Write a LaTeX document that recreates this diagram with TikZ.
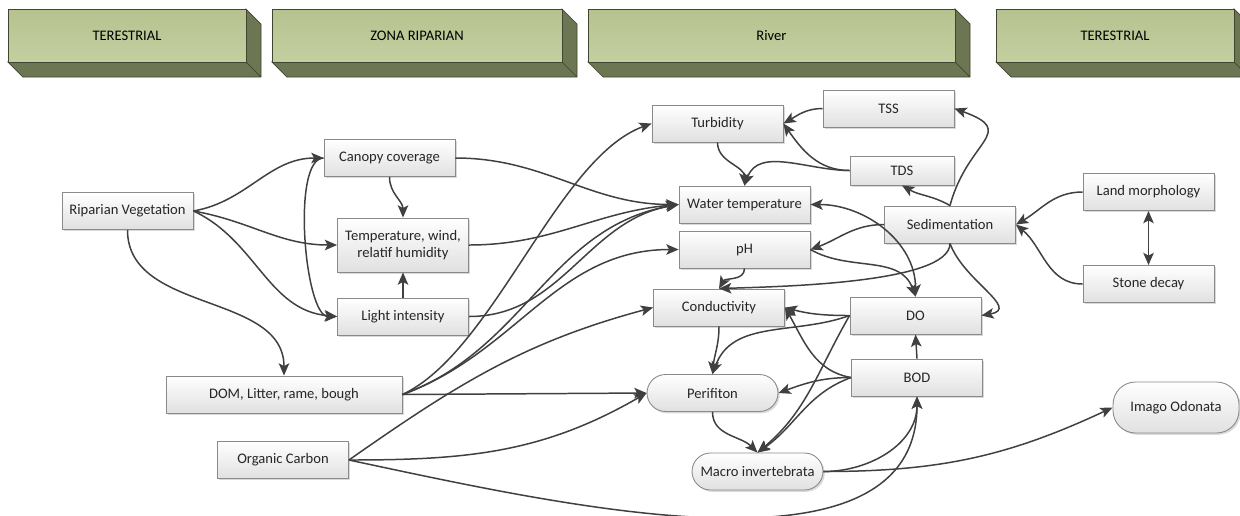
\documentclass[tikz,border=0pt]{standalone}
\usepackage{fontspec}
\setmainfont{Carlito}
\usetikzlibrary{arrows.meta,shadows}
\definecolor{ink}{HTML}{404040}
\definecolor{rim}{HTML}{8A8A8A}
\definecolor{leaf}{HTML}{BDCA95}
\definecolor{leafdark}{HTML}{6C7652}
\definecolor{leafrim}{HTML}{3F4530}

\begin{document}
\begin{tikzpicture}[x=0.02cm,y=-0.02cm,font=\fontsize{8.3}{9.6}\selectfont,
  zone/.style={draw=leafrim,line width=0.4pt,top color=leaf!96!black,bottom color=leaf!90!white,minimum height=1.06cm,inner sep=0pt},
  box/.style={draw=rim,line width=0.5pt,top color=white,bottom color=black!12,text=black!85,
    minimum width=2.62cm,minimum height=0.74cm,inner sep=1pt,align=center,
    drop shadow={shadow xshift=1pt,shadow yshift=-1pt,opacity=0.3}},
  pill/.style={box,rounded corners=0.37cm},
  conn/.style={ink,line width=0.85pt,-{Stealth[length=7pt,width=6pt,inset=1.6pt]}},
  twoway/.style={conn,{Stealth[length=7pt,width=6pt,inset=1.6pt]}-{Stealth[length=7pt,width=6pt,inset=1.6pt]}}]
\useasboundingbox (0,0) rectangle (1240,515);
\foreach \i/\xa/\xb/\name in {1/8/246/TERESTRIAL,2/272/562/ZONA RIPARIAN,3/588/955/River,4/996/1234/TERESTRIAL}{
  \filldraw[fill=leafdark,draw=leafrim,line width=0.4pt] (\xa,62) -- (\xb,62) -- (\xb,9) -- (\xb+15,24) -- (\xb+15,77) -- (\xa+15,77) -- cycle (\xb,62) -- (\xb+15,77);
  \node[zone,minimum width={(\xb-\xa)*0.02cm}] (zone\i) at ({(\xa+\xb)/2},35.5) {\name};}

\node[box] (ripveg) at (127.5,211) {Riparian Vegetation};
\node[box] (canopy) at (389.5,158) {Canopy coverage};
\node[box,minimum height=1.08cm] (climate) at (403,245) {Temperature, wind,\\relatif humidity};
\node[box] (light) at (403,316.5) {Light intensity};
\node[box,minimum width=4.72cm] (dom) at (284,394.5) {DOM, Litter, rame, bough};
\node[box] (carbon) at (283,460) {Organic Carbon};
\node[box] (turbid) at (717.5,123.5) {Turbidity};
\node[box] (tss) at (888.5,108.5) {TSS};
\node[box,minimum width=2.08cm,minimum height=0.58cm] (tds) at (902,170.5) {TDS};
\node[box] (wtemp) at (744.5,204.5) {Water temperature};
\node[box] (ph) at (744.5,249.5) {pH};
\node[box] (cond) at (719,307.5) {Conductivity};
\node[box] (sedim) at (950,224.5) {Sedimentation};
\node[box] (land) at (1148.5,192) {Land morphology};
\node[box] (stone) at (1148.5,284) {Stone decay};
\node[box] (dox) at (915.5,315.5) {DO};
\node[box] (bod) at (917,377.5) {BOD};
\node[pill] (perif) at (712.5,393) {Perifiton};
\node[pill] (macro) at (757.5,471.5) {Macro invertebrata};
\node[pill,minimum width=2.52cm,minimum height=1.02cm,rounded corners=0.45cm] (imago) at (1176,407.5) {Imago Odonata};

\draw[conn] (ripveg.east) to[out=10,in=180] (canopy.west);
\draw[conn] (ripveg.east) to[out=-10,in=180] (climate.west);
\draw[conn] (ripveg.east) to[out=-25,in=175] (light.west);
\draw[conn] (ripveg.south) to[out=-90,in=90] (dom.north);
\draw[conn] (canopy.south) to[out=-90,in=90] (climate.north);
\draw[conn] (light.north) -- (climate.south);
\draw[conn] (canopy.west) to[out=180,in=180,distance=0.65cm] (light.west);
\draw[conn] (canopy.east) to[out=0,in=180] (wtemp.west);
\draw[conn] (climate.east) to[out=0,in=185] (wtemp.west);
\draw[conn] (light.east) to[out=0,in=190] (wtemp.west);
\draw[conn] (dom.east) to[out=25,in=200,looseness=0.7] (turbid.west);
\draw[conn] (dom.east) to[out=20,in=190] (wtemp.west);
\draw[conn] (dom.east) to[out=20,in=180] (ph.west);
\draw[conn] (dom.east) -- (perif.west);
\draw[conn] (carbon.east) to[out=35,in=195] (cond.west);
\draw[conn] (carbon.east) to[out=0,in=210] (perif.west);
\draw[conn] (carbon.east) to[out=-12,in=-90,in looseness=0.85] (bod.south);
\draw[conn] (turbid.south) to[out=-90,in=90] (wtemp.north);
\draw[conn] (tds.west) to[out=180,in=70] (wtemp.north);
\draw[conn] (tss.west) to[out=180,in=30] (turbid.east);
\draw[conn] (tds.west) to[out=180,in=-55] (turbid.east);
\draw[conn] (sedim.north) to[out=150,in=-30] (tds.south);
\draw[conn] (sedim.north) to[out=75,in=-20,looseness=1.8] (tss.east);
\draw[conn] (sedim.west) to[out=180,in=20] (ph.east);
\draw[conn] (sedim.south) .. controls +(0,40) and +(60,-2) .. (cond.north);
\draw[conn] (ph.south) to[out=-90,in=60] (cond.north);
\draw[conn] (sedim.south) to[out=-70,in=10,looseness=1.3] (dox.east);
\draw[twoway] (wtemp.east) to[out=0,in=90] (dox.north);
\draw[conn] (ph.east) to[out=-30,in=110] (dox.north);
\draw[conn] (land.west) to[out=180,in=30] (sedim.east);
\draw[conn] (stone.west) to[out=180,in=-40] (sedim.east);
\draw[twoway] (land.south) -- (stone.north);
\draw[conn] (bod.north) -- (dox.south);
\draw[conn] (dox.west) to[out=180,in=-15] (cond.east);
\draw[conn] (bod.west) to[out=170,in=-60] (cond.east);
\draw[conn] (dox.west) to[out=200,in=70] (perif.north);
\draw[conn] (cond.south) to[out=-90,in=85] (perif.north);
\draw[conn] (bod.west) to[out=180,in=20] (perif.east);
\draw[conn] (dox.west) to[out=240,in=40] (macro.north);
\draw[conn] (bod.west) to[out=200,in=35] (macro.north);
\draw[conn] (perif.south) to[out=-90,in=135] (macro.north);
\draw[conn] (macro.east) to[out=0,in=-90] (bod.south);
\draw[conn] (macro.east) to[out=0,in=205] (imago.west);
\end{tikzpicture}
\end{document}
